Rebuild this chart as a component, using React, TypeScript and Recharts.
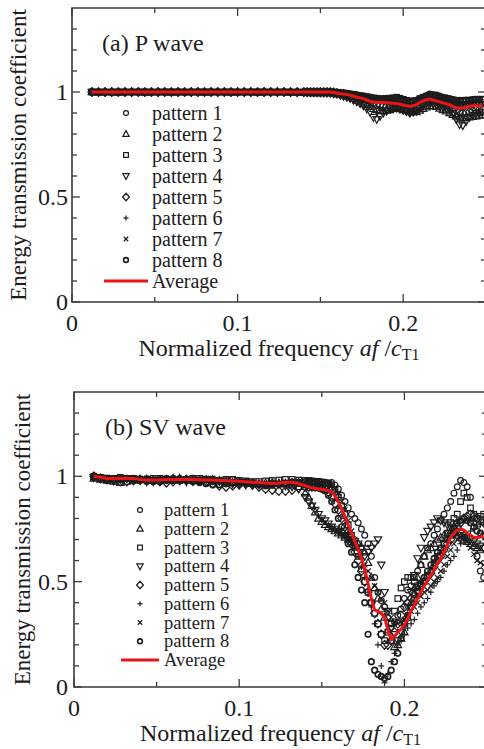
import React from 'react';
import { ComposedChart, Scatter, XAxis, YAxis, ReferenceArea, Legend, Label } from 'recharts';

// frequency grid (af / cT1): 0.004 steps on the plateau, 0.002 steps from 0.142 on
const freq = [
  0.012, 0.016, 0.02, 0.024, 0.028, 0.032, 0.036, 0.04, 0.044, 0.048,
  0.052, 0.056, 0.06, 0.064, 0.068, 0.072, 0.076, 0.08, 0.084, 0.088,
  0.092, 0.096, 0.1, 0.104, 0.108, 0.112, 0.116, 0.12, 0.124, 0.128,
  0.132, 0.136, 0.14,
  0.142, 0.144, 0.146, 0.148, 0.15, 0.152,
  0.154, 0.156, 0.158, 0.16, 0.162, 0.164,
  0.166, 0.168, 0.17, 0.172, 0.174, 0.176,
  0.178, 0.18, 0.182, 0.184, 0.186, 0.188,
  0.19, 0.192, 0.194, 0.196, 0.198, 0.2,
  0.202, 0.204, 0.206, 0.208, 0.21, 0.212,
  0.214, 0.216, 0.218, 0.22, 0.222, 0.224,
  0.226, 0.228, 0.23, 0.232, 0.234, 0.236,
  0.238, 0.24, 0.242, 0.244, 0.246, 0.248,
];

// (a) P wave
const pWave1 = [
  1, 1, 1, 1, 1, 1, 1, 1, 1, 1,
  1, 1, 1, 1, 1, 1, 1, 1, 1, 1,
  1, 1, 1, 1, 1, 1, 1, 1, 1, 1,
  1, 1, 1,
  1, 1, 1, 0.999, 0.999, 0.999,
  0.998, 0.998, 0.996, 0.995, 0.992, 0.99,
  0.988, 0.985, 0.982, 0.98, 0.978, 0.975,
  0.972, 0.97, 0.968, 0.965, 0.962, 0.96,
  0.958, 0.958, 0.96, 0.96, 0.958, 0.955,
  0.952, 0.95, 0.952, 0.955, 0.962, 0.97,
  0.976, 0.98, 0.978, 0.975, 0.97, 0.965,
  0.96, 0.955, 0.95, 0.945, 0.942, 0.94,
  0.942, 0.945, 0.948, 0.95, 0.95, 0.95,
];
const pWave2 = [
  1, 0.998, 1, 1, 0.998, 1, 1, 1, 0.998, 1,
  1, 1, 0.998, 1, 1, 1, 1, 0.998, 1, 1,
  1, 0.998, 1, 1, 1, 0.998, 1, 1, 1, 1,
  0.998, 0.998, 0.997,
  0.997, 0.996, 0.996, 0.996, 0.996, 0.996,
  0.995, 0.995, 0.993, 0.99, 0.988, 0.985,
  0.98, 0.975, 0.968, 0.96, 0.952, 0.945,
  0.938, 0.93, 0.92, 0.915, 0.91, 0.91,
  0.912, 0.915, 0.92, 0.925, 0.922, 0.92,
  0.915, 0.91, 0.905, 0.905, 0.912, 0.92,
  0.928, 0.935, 0.932, 0.93, 0.922, 0.915,
  0.908, 0.9, 0.892, 0.885, 0.88, 0.875,
  0.878, 0.88, 0.882, 0.885, 0.888, 0.89,
];
const pWave3 = [
  1, 1, 1, 0.999, 1, 1, 1, 1, 1, 0.999,
  1, 1, 1, 1, 0.999, 1, 1, 1, 1, 1,
  1, 1, 0.999, 1, 1, 1, 1, 1, 0.999, 1,
  1, 1, 1,
  1, 1, 1, 1, 1, 1,
  1, 1, 0.999, 0.998, 0.996, 0.995,
  0.992, 0.99, 0.988, 0.985, 0.982, 0.98,
  0.978, 0.975, 0.972, 0.97, 0.968, 0.965,
  0.968, 0.97, 0.972, 0.975, 0.97, 0.965,
  0.96, 0.955, 0.958, 0.96, 0.968, 0.975,
  0.98, 0.985, 0.982, 0.98, 0.975, 0.97,
  0.968, 0.965, 0.962, 0.96, 0.958, 0.955,
  0.958, 0.96, 0.962, 0.965, 0.965, 0.965,
];
const pWave4 = [
  1, 1, 0.999, 1, 1, 1, 0.999, 1, 1, 1,
  0.999, 1, 1, 1, 1, 0.999, 1, 1, 1, 0.999,
  1, 1, 1, 0.999, 1, 1, 1, 0.999, 1, 1,
  0.999, 0.998, 0.998,
  0.998, 0.997, 0.997, 0.997, 0.996, 0.996,
  0.995, 0.995, 0.993, 0.99, 0.985, 0.98,
  0.975, 0.97, 0.962, 0.955, 0.945, 0.935,
  0.92, 0.905, 0.88, 0.87, 0.885, 0.9,
  0.91, 0.92, 0.925, 0.93, 0.925, 0.92,
  0.91, 0.9, 0.905, 0.91, 0.922, 0.935,
  0.945, 0.95, 0.945, 0.94, 0.935, 0.93,
  0.922, 0.915, 0.9, 0.87, 0.845, 0.84,
  0.86, 0.88, 0.89, 0.9, 0.902, 0.905,
];
const pWave5 = [
  1, 1, 1, 1, 1, 1, 1, 1, 1, 1,
  1, 1, 1, 1, 1, 1, 1, 1, 1, 1,
  1, 1, 1, 1, 1, 1, 1, 1, 1, 1,
  1, 1, 1,
  1, 1, 1, 1, 1, 1,
  1, 1, 0.998, 0.995, 0.992, 0.99,
  0.988, 0.985, 0.982, 0.98, 0.975, 0.97,
  0.962, 0.955, 0.948, 0.94, 0.938, 0.935,
  0.932, 0.93, 0.928, 0.925, 0.92, 0.915,
  0.91, 0.905, 0.908, 0.915, 0.928, 0.94,
  0.95, 0.96, 0.958, 0.955, 0.95, 0.945,
  0.94, 0.935, 0.925, 0.915, 0.905, 0.9,
  0.902, 0.905, 0.91, 0.915, 0.915, 0.915,
];
const pWave6 = [
  1, 1, 1, 1, 1, 0.999, 1, 1, 1, 1,
  1, 0.999, 1, 1, 1, 1, 1, 1, 0.999, 1,
  1, 1, 1, 1, 0.999, 1, 1, 1, 1, 1,
  1, 1, 1,
  1, 0.999, 0.999, 0.999, 0.999, 0.999,
  0.998, 0.998, 0.997, 0.995, 0.992, 0.99,
  0.986, 0.982, 0.978, 0.975, 0.972, 0.968,
  0.964, 0.96, 0.958, 0.955, 0.955, 0.955,
  0.952, 0.95, 0.948, 0.945, 0.942, 0.94,
  0.938, 0.935, 0.936, 0.94, 0.948, 0.955,
  0.96, 0.965, 0.962, 0.96, 0.955, 0.95,
  0.945, 0.94, 0.935, 0.93, 0.93, 0.93,
  0.932, 0.935, 0.938, 0.94, 0.94, 0.94,
];
const pWave7 = [
  1, 1, 1, 1, 1, 1, 1, 1, 1, 1,
  1, 1, 1, 1, 1, 1, 1, 1, 1, 1,
  1, 1, 1, 1, 1, 1, 1, 1, 1, 1,
  1, 1, 1,
  1, 1, 1, 1, 1, 1,
  1, 1, 0.998, 0.995, 0.992, 0.99,
  0.988, 0.985, 0.982, 0.978, 0.974, 0.97,
  0.966, 0.962, 0.96, 0.958, 0.956, 0.955,
  0.955, 0.955, 0.952, 0.95, 0.948, 0.945,
  0.942, 0.938, 0.94, 0.945, 0.953, 0.962,
  0.966, 0.97, 0.966, 0.962, 0.958, 0.955,
  0.95, 0.945, 0.94, 0.935, 0.935, 0.935,
  0.938, 0.94, 0.942, 0.945, 0.945, 0.945,
];
const pWave8 = [
  1, 1, 1, 1, 1, 1, 1, 1, 1, 1,
  1, 1, 1, 1, 1, 1, 1, 1, 1, 1,
  1, 1, 1, 1, 1, 1, 1, 1, 1, 1,
  1, 1, 1,
  1, 1, 1, 1, 1, 1,
  1, 1, 0.999, 0.998, 0.996, 0.995,
  0.992, 0.99, 0.988, 0.985, 0.982, 0.98,
  0.976, 0.972, 0.968, 0.965, 0.966, 0.968,
  0.97, 0.97, 0.969, 0.968, 0.964, 0.96,
  0.958, 0.955, 0.957, 0.96, 0.968, 0.975,
  0.982, 0.99, 0.988, 0.985, 0.98, 0.975,
  0.972, 0.968, 0.964, 0.96, 0.96, 0.96,
  0.961, 0.962, 0.964, 0.965, 0.965, 0.965,
];
const pWaveAvg = [
  1, 1, 1, 1, 1, 1, 1, 1, 1, 1,
  1, 1, 1, 1, 1, 1, 1, 1, 1, 1,
  1, 1, 1, 1, 1, 1, 1, 1, 1, 1,
  1, 1, 1,
  1, 1, 1, 1, 1, 1,
  1, 1, 0.998, 0.995, 0.992, 0.99,
  0.988, 0.985, 0.98, 0.975, 0.972, 0.968,
  0.962, 0.955, 0.952, 0.95, 0.95, 0.95,
  0.949, 0.948, 0.946, 0.945, 0.942, 0.938,
  0.935, 0.932, 0.935, 0.94, 0.95, 0.958,
  0.963, 0.966, 0.962, 0.958, 0.953, 0.948,
  0.944, 0.94, 0.932, 0.925, 0.924, 0.925,
  0.928, 0.932, 0.934, 0.935, 0.935, 0.935,
];

// (b) SV wave
const svWave1 = [
  1, 0.99, 0.98, 0.985, 0.99, 0.99, 0.985, 0.98, 0.975, 0.98,
  0.985, 0.99, 0.99, 0.99, 0.985, 0.98, 0.975, 0.97, 0.975, 0.98,
  0.985, 0.985, 0.98, 0.975, 0.97, 0.965, 0.96, 0.96, 0.962, 0.965,
  0.97, 0.972, 0.975,
  0.976, 0.975, 0.974, 0.975, 0.973, 0.972,
  0.968, 0.97, 0.958, 0.94, 0.91, 0.88,
  0.85, 0.82, 0.8, 0.78, 0.75, 0.72,
  0.68, 0.62, 0.52, 0.45, 0.41, 0.38,
  0.33, 0.3, 0.31, 0.34, 0.37, 0.42,
  0.46, 0.48, 0.52, 0.55, 0.58, 0.62,
  0.66, 0.68, 0.72, 0.75, 0.79, 0.82,
  0.85, 0.88, 0.92, 0.95, 0.98, 0.97,
  0.95, 0.9, 0.78, 0.62, 0.55, 0.52,
];
const svWave2 = [
  0.99, 0.985, 0.98, 0.975, 0.97, 0.975, 0.98, 0.985, 0.985, 0.98,
  0.98, 0.985, 0.99, 0.99, 0.985, 0.98, 0.98, 0.985, 0.985, 0.98,
  0.975, 0.97, 0.97, 0.968, 0.965, 0.965, 0.968, 0.97, 0.968, 0.962,
  0.958, 0.95, 0.92,
  0.9, 0.86, 0.83, 0.8, 0.785, 0.77,
  0.76, 0.75, 0.74, 0.73, 0.72, 0.71,
  0.7, 0.69, 0.685, 0.68, 0.665, 0.64,
  0.59, 0.52, 0.47, 0.42, 0.37, 0.33,
  0.27, 0.22, 0.19, 0.2, 0.23, 0.26,
  0.33, 0.4, 0.47, 0.52, 0.58, 0.62,
  0.65, 0.66, 0.68, 0.7, 0.71, 0.72,
  0.73, 0.74, 0.73, 0.72, 0.71, 0.7,
  0.69, 0.68, 0.67, 0.66, 0.65, 0.66,
];
const svWave3 = [
  1, 0.995, 0.99, 0.99, 0.995, 0.99, 0.99, 0.985, 0.985, 0.99,
  0.99, 0.985, 0.98, 0.98, 0.985, 0.99, 0.99, 0.985, 0.98, 0.98,
  0.985, 0.985, 0.98, 0.978, 0.975, 0.975, 0.978, 0.98, 0.982, 0.985,
  0.985, 0.982, 0.98,
  0.98, 0.978, 0.976, 0.975, 0.972, 0.97,
  0.966, 0.96, 0.935, 0.9, 0.86, 0.82,
  0.77, 0.72, 0.67, 0.62, 0.56, 0.5,
  0.45, 0.4, 0.35, 0.3, 0.25, 0.22,
  0.26, 0.3, 0.36, 0.42, 0.47, 0.5,
  0.52, 0.52, 0.5, 0.48, 0.49, 0.5,
  0.53, 0.55, 0.59, 0.62, 0.65, 0.68,
  0.73, 0.78, 0.8, 0.82, 0.88, 0.92,
  0.9, 0.85, 0.82, 0.8, 0.81, 0.82,
];
const svWave4 = [
  0.995, 0.99, 0.985, 0.98, 0.985, 0.99, 0.985, 0.98, 0.975, 0.975,
  0.98, 0.985, 0.985, 0.98, 0.975, 0.975, 0.98, 0.985, 0.98, 0.975,
  0.97, 0.965, 0.962, 0.96, 0.958, 0.96, 0.962, 0.965, 0.962, 0.955,
  0.95, 0.94, 0.9,
  0.88, 0.86, 0.84, 0.82, 0.8, 0.79,
  0.775, 0.76, 0.75, 0.74, 0.73, 0.72,
  0.71, 0.7, 0.69, 0.68, 0.66, 0.62,
  0.64, 0.66, 0.68, 0.7, 0.58, 0.45,
  0.36, 0.28, 0.25, 0.22, 0.26, 0.3,
  0.38, 0.45, 0.53, 0.61, 0.66, 0.71,
  0.74, 0.76, 0.78, 0.8, 0.79, 0.78,
  0.77, 0.76, 0.75, 0.74, 0.73, 0.72,
  0.71, 0.7, 0.69, 0.68, 0.67, 0.66,
];
const svWave5 = [
  1, 0.99, 0.985, 0.98, 0.975, 0.975, 0.98, 0.985, 0.985, 0.98,
  0.975, 0.97, 0.975, 0.98, 0.985, 0.985, 0.98, 0.975, 0.965, 0.955,
  0.95, 0.955, 0.96, 0.965, 0.96, 0.95, 0.94, 0.935, 0.93, 0.93,
  0.935, 0.945, 0.95,
  0.95, 0.95, 0.95, 0.948, 0.945, 0.94,
  0.925, 0.9, 0.87, 0.84, 0.8, 0.76,
  0.72, 0.68, 0.64, 0.6, 0.55, 0.5,
  0.45, 0.4, 0.35, 0.3, 0.25, 0.2,
  0.2, 0.22, 0.26, 0.3, 0.34, 0.38,
  0.4, 0.42, 0.44, 0.46, 0.48, 0.5,
  0.52, 0.54, 0.57, 0.6, 0.62, 0.65,
  0.68, 0.7, 0.73, 0.76, 0.78, 0.8,
  0.81, 0.82, 0.81, 0.8, 0.79, 0.78,
];
const svWave6 = [
  1, 0.995, 0.99, 0.99, 0.985, 0.985, 0.99, 0.99, 0.985, 0.98,
  0.98, 0.985, 0.99, 0.99, 0.99, 0.985, 0.98, 0.98, 0.975, 0.975,
  0.97, 0.97, 0.965, 0.962, 0.96, 0.958, 0.96, 0.965, 0.97, 0.975,
  0.978, 0.98, 0.982,
  0.98, 0.98, 0.978, 0.975, 0.972, 0.968,
  0.96, 0.95, 0.93, 0.9, 0.85, 0.8,
  0.75, 0.7, 0.66, 0.62, 0.57, 0.52,
  0.45, 0.38, 0.3, 0.2, 0.1, 0.02,
  0.06, 0.12, 0.16, 0.2, 0.22, 0.25,
  0.28, 0.3, 0.32, 0.35, 0.38, 0.4,
  0.42, 0.45, 0.48, 0.5, 0.52, 0.55,
  0.58, 0.6, 0.62, 0.65, 0.68, 0.7,
  0.72, 0.74, 0.75, 0.76, 0.77, 0.78,
];
const svWave7 = [
  1, 0.995, 0.995, 0.99, 0.99, 0.985, 0.985, 0.99, 0.99, 0.985,
  0.985, 0.99, 0.99, 0.985, 0.98, 0.98, 0.985, 0.99, 0.99, 0.985,
  0.98, 0.978, 0.975, 0.97, 0.968, 0.965, 0.962, 0.96, 0.965, 0.97,
  0.975, 0.975, 0.972,
  0.97, 0.968, 0.966, 0.965, 0.965, 0.965,
  0.963, 0.96, 0.945, 0.92, 0.88, 0.84,
  0.79, 0.74, 0.7, 0.66, 0.62, 0.58,
  0.55, 0.52, 0.48, 0.45, 0.42, 0.4,
  0.36, 0.33, 0.31, 0.3, 0.31, 0.32,
  0.34, 0.36, 0.38, 0.4, 0.43, 0.45,
  0.46, 0.48, 0.5, 0.52, 0.55, 0.58,
  0.62, 0.65, 0.68, 0.7, 0.71, 0.72,
  0.69, 0.66, 0.63, 0.6, 0.59, 0.58,
];
const svWave8 = [
  0.995, 0.99, 0.99, 0.985, 0.985, 0.99, 0.99, 0.985, 0.98, 0.975,
  0.975, 0.98, 0.985, 0.985, 0.98, 0.975, 0.97, 0.965, 0.96, 0.96,
  0.965, 0.97, 0.972, 0.97, 0.965, 0.96, 0.955, 0.958, 0.962, 0.968,
  0.972, 0.968, 0.96,
  0.956, 0.952, 0.948, 0.945, 0.94, 0.93,
  0.91, 0.88, 0.84, 0.8, 0.76, 0.72,
  0.68, 0.64, 0.58, 0.52, 0.46, 0.4,
  0.25, 0.12, 0.08, 0.06, 0.05, 0.04,
  0.05, 0.08, 0.12, 0.16, 0.23, 0.3,
  0.34, 0.38, 0.42, 0.45, 0.49, 0.52,
  0.55, 0.58, 0.61, 0.64, 0.66, 0.68,
  0.7, 0.72, 0.75, 0.78, 0.79, 0.8,
  0.79, 0.78, 0.76, 0.74, 0.73, 0.72,
];
const svWaveAvg = [
  1, 0.995, 0.99, 0.99, 0.99, 0.99, 0.99, 0.985, 0.982, 0.982,
  0.983, 0.985, 0.985, 0.985, 0.986, 0.985, 0.984, 0.982, 0.982, 0.98,
  0.98, 0.978, 0.976, 0.974, 0.972, 0.97, 0.968, 0.966, 0.968, 0.972,
  0.972, 0.965, 0.955,
  0.95, 0.945, 0.942, 0.94, 0.938, 0.935,
  0.932, 0.925, 0.905, 0.88, 0.845, 0.81,
  0.77, 0.73, 0.69, 0.655, 0.61, 0.56,
  0.49, 0.42, 0.365, 0.36, 0.35, 0.33,
  0.27, 0.225, 0.24, 0.26, 0.275, 0.295,
  0.325, 0.36, 0.39, 0.42, 0.45, 0.48,
  0.505, 0.53, 0.555, 0.585, 0.61, 0.64,
  0.675, 0.71, 0.73, 0.745, 0.75, 0.745,
  0.73, 0.72, 0.712, 0.71, 0.712, 0.715,
];

const patternLabels = ['pattern 1', 'pattern 2', 'pattern 3', 'pattern 4', 'pattern 5', 'pattern 6', 'pattern 7', 'pattern 8'];
const markerKinds = ['circle', 'triUp', 'square', 'triDown', 'diamond', 'plus', 'cross', 'circleBold'];
const xTicks = [0, 0.05, 0.1, 0.15, 0.2, 0.25];
const yTicks = [0, 0.1, 0.2, 0.3, 0.4, 0.5, 0.6, 0.7, 0.8, 0.9, 1, 1.1, 1.2, 1.3];

const SERIF = "'Liberation Serif', 'Times New Roman', serif";
const INK = '#1c1c1c';
const AXIS = '#3a3a3a';
const RED = '#ec1515';
const CHART_W = 492;

interface PanelLayout {
  height: number;
  top: number;
  xAxisH: number;
  yAxisW: number;
  right: number;
  yTitleX: number;
  titleX: number;
  titleY: number;
  legTop: number;
  legGap: number;
  legFont: number;
  markX: number;
  textX: number;
  lineX1: number;
  lineX2: number;
}

const layoutA: PanelLayout = {
  height: 375, top: 8, xAxisH: 73, yAxisW: 72, right: 6, yTitleX: 18,
  titleX: 102, titleY: 43,
  legTop: 113, legGap: 21, legFont: 20, markX: 126, textX: 152, lineX1: 104, lineX2: 148,
};
const layoutB: PanelLayout = {
  height: 374, top: 17, xAxisH: 62, yAxisW: 74, right: 5, yTitleX: 22,
  titleX: 105, titleY: 52,
  legTop: 135, legGap: 18.75, legFont: 18.5, markX: 140, textX: 164, lineX1: 121, lineX2: 159,
};

const Marker = ({ kind, cx, cy, k = 1 }: { kind: string; cx: number; cy: number; k?: number }) => {
  const s = { fill: 'none', stroke: INK, strokeWidth: 1.2 };
  switch (kind) {
    case 'circle':
      return <circle cx={cx} cy={cy} r={2.9 * k} {...s} />;
    case 'triUp':
      return <polygon points={`${cx},${cy - 4 * k} ${cx - 3.7 * k},${cy + 2.7 * k} ${cx + 3.7 * k},${cy + 2.7 * k}`} {...s} />;
    case 'square':
      return <rect x={cx - 2.8 * k} y={cy - 2.8 * k} width={5.6 * k} height={5.6 * k} {...s} />;
    case 'triDown':
      return <polygon points={`${cx},${cy + 4 * k} ${cx - 3.7 * k},${cy - 2.7 * k} ${cx + 3.7 * k},${cy - 2.7 * k}`} {...s} />;
    case 'diamond':
      return <polygon points={`${cx},${cy - 4.4 * k} ${cx + 4 * k},${cy} ${cx},${cy + 4.4 * k} ${cx - 4 * k},${cy}`} strokeLinejoin="round" {...s} />;
    case 'plus':
      return (
        <g {...s}>
          <line x1={cx - 3 * k} x2={cx + 3 * k} y1={cy} y2={cy} />
          <line x1={cx} x2={cx} y1={cy - 3 * k} y2={cy + 3 * k} />
        </g>
      );
    case 'cross':
      return (
        <g {...s}>
          <line x1={cx - 2.6 * k} x2={cx + 2.6 * k} y1={cy - 2.6 * k} y2={cy + 2.6 * k} />
          <line x1={cx - 2.6 * k} x2={cx + 2.6 * k} y1={cy + 2.6 * k} y2={cy - 2.6 * k} />
        </g>
      );
    default:
      return <circle cx={cx} cy={cy} r={2.8 * k} fill="none" stroke={INK} strokeWidth={1.6} />;
  }
};

const isMajorX = (v: number) => Math.abs(v * 10 - Math.round(v * 10)) < 1e-6;
const isMajorY = (v: number) => Math.abs(v * 2 - Math.round(v * 2)) < 1e-6;
const fmt = (v: number) => String(Number(v.toFixed(2)));

const makeXTick = (plotTop: number) => (props: any) => {
  const { x, y, payload } = props;
  const v = payload.value;
  const major = isMajorX(v);
  const len = major ? 8 : 5;
  return (
    <g>
      <line x1={x} x2={x} y1={y} y2={y - len} stroke={AXIS} strokeWidth={1.3} />
      <line x1={x} x2={x} y1={plotTop} y2={plotTop + len} stroke={AXIS} strokeWidth={1.3} />
      {major && (
        <text x={x} y={y + 21} textAnchor="middle" dominantBaseline="central" fontSize={24} fill={INK}>
          {fmt(v)}
        </text>
      )}
    </g>
  );
};

const makeYTick = (plotRight: number, gap: number) => (props: any) => {
  const { x, y, payload } = props;
  const v = payload.value;
  const major = isMajorY(v);
  const len = major ? 8 : 5;
  return (
    <g>
      <line x1={x} x2={x + len} y1={y} y2={y} stroke={AXIS} strokeWidth={1.3} />
      <line x1={plotRight} x2={plotRight - len} y1={y} y2={y} stroke={AXIS} strokeWidth={1.3} />
      {major && (
        <text x={x - gap} y={y} textAnchor="end" dominantBaseline="central" fontSize={24} fill={INK}>
          {fmt(v)}
        </text>
      )}
    </g>
  );
};

const PanelLegend = ({ layout, title }: { layout: PanelLayout; title: string }) => {
  const avgY = layout.legTop + 8 * layout.legGap;
  return (
    <svg width={CHART_W} height={layout.height} style={{ display: 'block', fontFamily: SERIF }}>
      <text x={layout.titleX} y={layout.titleY} fontSize={24} dominantBaseline="central" fill={INK}>
        {title}
      </text>
      {patternLabels.map((label, i) => {
        const cy = layout.legTop + i * layout.legGap;
        return (
          <g key={label}>
            <Marker kind={markerKinds[i]} cx={layout.markX} cy={cy} k={0.85} />
            <text x={layout.textX} y={cy} fontSize={layout.legFont} dominantBaseline="central" fill={INK}>
              {label}
            </text>
          </g>
        );
      })}
      <line x1={layout.lineX1} x2={layout.lineX2} y1={avgY} y2={avgY} stroke={RED} strokeWidth={2.8} />
      <text x={layout.textX} y={avgY} fontSize={layout.legFont} dominantBaseline="central" fill={INK}>
        Average
      </text>
    </svg>
  );
};

const toRows = (values: number[]) => freq.map((f, i) => ({ f, v: values[i] }));

interface PanelProps {
  title: string;
  series: number[][];
  average: number[];
  layout: PanelLayout;
}

const Panel = ({ title, series, average, layout }: PanelProps) => {
  const plotTop = layout.top;
  const plotRight = CHART_W - layout.right;
  const plotBottom = layout.height - layout.xAxisH;
  const midY = (plotTop + plotBottom) / 2;
  const midX = (layout.yAxisW + plotRight) / 2;

  return (
    <ComposedChart
      width={CHART_W}
      height={layout.height}
      margin={{ top: layout.top, right: layout.right, bottom: 0, left: 0 }}
    >
      <XAxis
        type="number"
        dataKey="f"
        domain={[0, 0.25]}
        ticks={xTicks}
        interval={0}
        allowDataOverflow
        height={layout.xAxisH}
        tickSize={0}
        tickMargin={0}
        axisLine={false}
        tickLine={false}
        tick={makeXTick(plotTop)}
      >
        <Label
          content={() => (
            <text x={midX} y={plotBottom + 46} textAnchor="middle" dominantBaseline="central" fontSize={24} fill={INK}>
              {'Normalized frequency '}
              <tspan fontStyle="italic">af</tspan>
              {' /'}
              <tspan fontStyle="italic">c</tspan>
              <tspan fontSize={16} dy={6}>T1</tspan>
            </text>
          )}
        />
      </XAxis>
      <YAxis
        type="number"
        dataKey="v"
        domain={[0, 1.4]}
        ticks={yTicks}
        interval={0}
        allowDataOverflow
        width={layout.yAxisW}
        tickSize={0}
        tickMargin={0}
        axisLine={false}
        tickLine={false}
        tick={makeYTick(plotRight, layout.yAxisW - 68)}
      >
        <Label
          content={() => (
            <text
              x={layout.yTitleX}
              y={midY}
              transform={`rotate(-90, ${layout.yTitleX}, ${midY})`}
              textAnchor="middle"
              dominantBaseline="central"
              fontSize={23}
              fill={INK}
            >
              Energy transmission coefficient
            </text>
          )}
        />
      </YAxis>
      <ReferenceArea x1={0} x2={0.25} y1={0} y2={1.4} fill="none" stroke={AXIS} strokeWidth={1.6} />
      {series.map((values, i) => (
        <Scatter
          key={patternLabels[i]}
          name={patternLabels[i]}
          data={toRows(values)}
          isAnimationActive={false}
          shape={(p: any) => <Marker kind={markerKinds[i]} cx={p.cx} cy={p.cy} />}
        />
      ))}
      {/* average drawn as a joined scatter so it sits above the markers */}
      <Scatter
        name="Average"
        data={toRows(average)}
        fill={RED}
        line={{ stroke: RED, strokeWidth: 3 }}
        lineType="joint"
        shape={() => <g />}
        isAnimationActive={false}
      />
      <Legend
        layout="horizontal"
        verticalAlign="middle"
        align="center"
        wrapperStyle={{ left: 0, top: 0, width: CHART_W, height: layout.height, pointerEvents: 'none' }}
        content={() => <PanelLegend layout={layout} title={title} />}
      />
    </ComposedChart>
  );
};

export default function App() {
  return (
    <div
      style={{
        position: 'absolute',
        left: 0,
        top: 0,
        width: 484,
        height: 749,
        overflow: 'hidden',
        background: '#fff',
        fontFamily: SERIF,
      }}
    >
      <div style={{ position: 'absolute', left: 0, top: 0 }}>
        <Panel
          title="(a) P wave"
          series={[pWave1, pWave2, pWave3, pWave4, pWave5, pWave6, pWave7, pWave8]}
          average={pWaveAvg}
          layout={layoutA}
        />
      </div>
      <div style={{ position: 'absolute', left: 0, top: 375 }}>
        <Panel
          title="(b) SV wave"
          series={[svWave1, svWave2, svWave3, svWave4, svWave5, svWave6, svWave7, svWave8]}
          average={svWaveAvg}
          layout={layoutB}
        />
      </div>
    </div>
  );
}
